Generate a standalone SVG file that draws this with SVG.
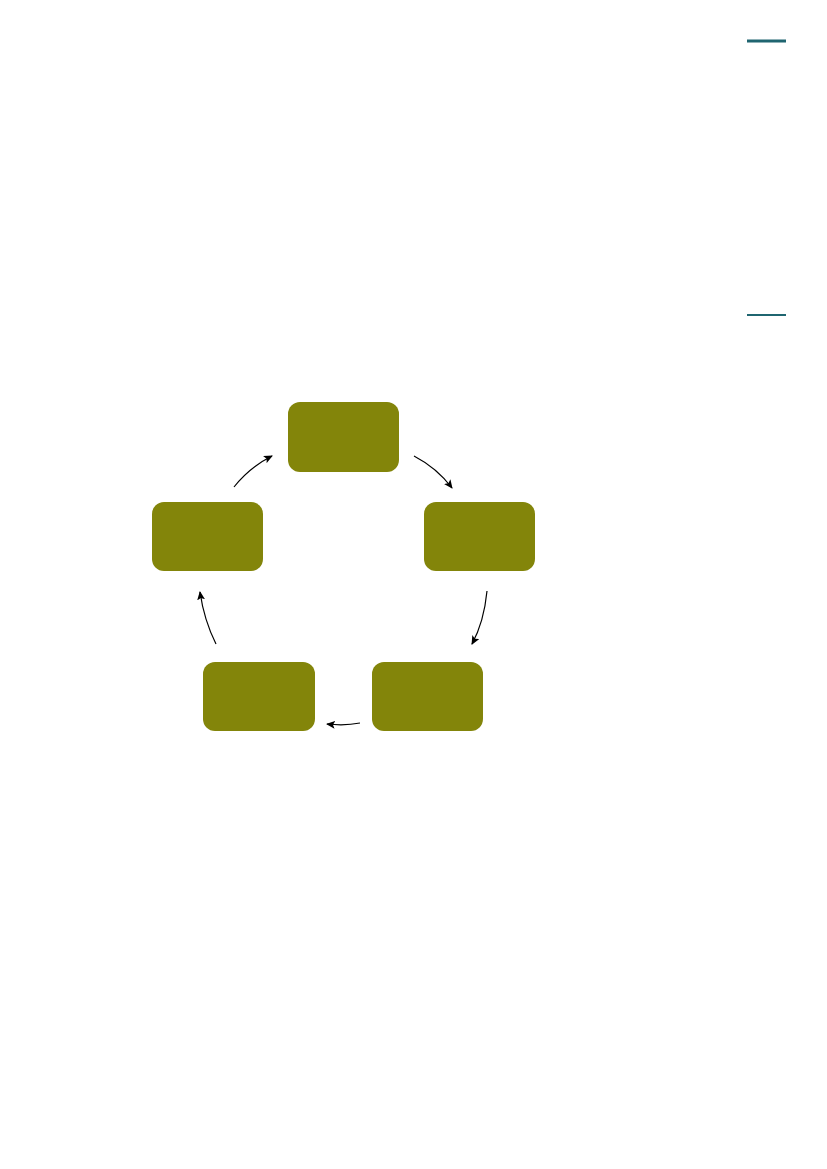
<svg xmlns="http://www.w3.org/2000/svg" width="827" height="1169" viewBox="0 0 827 1169">
<style>
.node{fill:#83850a;}
.conn{fill:none;stroke:#000;stroke-width:1.2;marker-end:url(#ah);}
.rule{stroke:#1f6570;}
</style>
<defs>
<marker id="ah" markerWidth="10" markerHeight="8" refX="8" refY="4" orient="auto" markerUnits="userSpaceOnUse">
<path d="M0,0 L9,4 L0,8 L2,4 Z" fill="#000"/>
</marker>
</defs>
<rect width="827" height="1169" fill="#fff"/>
<line class="rule" x1="747" y1="41" x2="786" y2="41" stroke-width="3"/>
<line class="rule" x1="747" y1="315" x2="786" y2="315" stroke-width="2"/>
<g id="connectors">
<path class="conn" d="M234,487 Q250,467 272,456"/>
<path class="conn" d="M414,456 Q437,468 452,488"/>
<path class="conn" d="M487,591 Q484,622 472,644"/>
<path class="conn" d="M360,723 Q345,726 327,724"/>
<path class="conn" d="M216,644 Q204,620 200,592"/>
</g>
<g id="node-top"><rect class="node" x="288" y="402" width="111" height="70" rx="12"/></g>
<g id="node-right"><rect class="node" x="424" y="502" width="111" height="69" rx="12"/></g>
<g id="node-bottom-right"><rect class="node" x="372" y="662" width="111" height="69" rx="12"/></g>
<g id="node-bottom-left"><rect class="node" x="203" y="662" width="112" height="69" rx="12"/></g>
<g id="node-left"><rect class="node" x="152" y="502" width="111" height="69" rx="12"/></g>
</svg>
